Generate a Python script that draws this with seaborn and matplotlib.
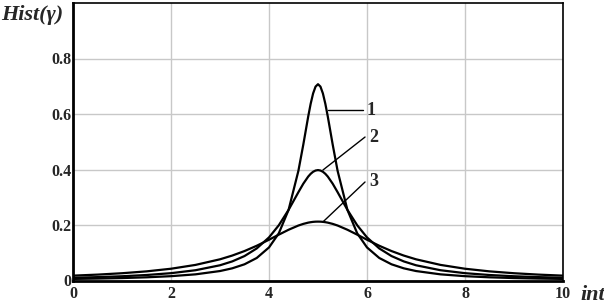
import matplotlib
matplotlib.use("Agg")
import matplotlib.pyplot as plt
import seaborn as sns
import pandas as pd

# Data
x_vals = [0, 0.5, 1, 1.5, 2, 2.5, 3, 3.25, 3.5, 3.75, 4, 4.2, 4.4, 4.6, 4.7, 4.8, 4.85, 4.9, 4.95, 5,
          5.05, 5.1, 5.15, 5.2, 5.3, 5.4, 5.6, 5.8, 6, 6.25, 6.5, 6.75, 7, 7.5, 8, 8.5, 9, 9.5, 10]
half1 = [0.0057, 0.0070, 0.0088, 0.0115, 0.0156, 0.0222, 0.0341, 0.0439, 0.0584, 0.0812,
         0.1191, 0.1700, 0.2547, 0.3952, 0.4897, 0.5907, 0.6366, 0.6741, 0.6987]
peak1 = 0.7074
half2 = [0.0099, 0.0122, 0.0153, 0.0198, 0.0264, 0.0370, 0.0549, 0.0688, 0.0881, 0.1156,
         0.1553, 0.1990, 0.2547, 0.3183, 0.3488, 0.3745, 0.3844, 0.3918, 0.3963]
peak2 = 0.3979
half3 = [0.0175, 0.0212, 0.0262, 0.0329, 0.0424, 0.0562, 0.0764, 0.0899, 0.1061, 0.1252,
         0.1469, 0.1652, 0.1829, 0.1981, 0.2040, 0.2085, 0.2101, 0.2113, 0.2120]
peak3 = 0.2122

curve1 = half1 + [peak1] + half1[::-1]
curve2 = half2 + [peak2] + half2[::-1]
curve3 = half3 + [peak3] + half3[::-1]
curve_names = ["1", "2", "3"]

x_ticks = [0, 2, 4, 6, 8, 10]
y_ticks = [0, 0.2, 0.4, 0.6, 0.8]
y_tick_labels = ["0", "0.2", "0.4", "0.6", "0.8"]

# label leader lines: (curve point) -> (label point)
label_start = [(5.20, 0.614), (5.10, 0.398), (5.10, 0.211)]
label_end = [(5.92, 0.614), (5.96, 0.517), (5.96, 0.355)]

rows = []
for name, ys in zip(curve_names, [curve1, curve2, curve3]):
    for xv, yv in zip(x_vals, ys):
        rows.append({"int": xv, "hist": yv, "curve": name})
df = pd.DataFrame(rows)

sns.set_style("white")
plt.rcParams["font.family"] = ["Liberation Serif", "DejaVu Serif"]

fig = plt.figure(figsize=(6.04, 3.04), dpi=100)
ax = fig.add_axes([73 / 604, 23.5 / 304, 490 / 604, 277.5 / 304])

sns.lineplot(data=df, x="int", y="hist", units="curve", estimator=None,
             color="black", linewidth=1.6, ax=ax, legend=False)

ax.set_xlim(0, 10)
ax.set_ylim(0, 1)
ax.set_xticks(x_ticks)
ax.set_yticks(y_ticks)
ax.set_xticklabels([str(t) for t in x_ticks], fontweight="bold", fontsize=11.5)
ax.set_yticklabels(y_tick_labels, fontweight="bold", fontsize=11.5)
ax.tick_params(axis="y", length=0, pad=1)
ax.tick_params(axis="x", length=0, pad=4)
ax.grid(True, color="#c8c8c8", linewidth=1)
ax.set_axisbelow(True)
for s in ax.spines.values():
    s.set_color("black")
    s.set_linewidth(1.2)
ax.spines["left"].set_linewidth(2)
ax.spines["bottom"].set_linewidth(2)
ax.set_xlabel("")
ax.set_ylabel("")

for name, (x0, y0), (x1, y1) in zip(curve_names, label_start, label_end):
    ax.plot([x0, x1], [y0, y1], color="black", linewidth=1)
    ax.text(x1 + 0.08, y1, name, fontsize=13, fontweight="bold",
            ha="left", va="center")

fig.text(1 / 604, 1 - 15 / 304, "Hist(γ)", fontsize=16, fontweight="bold",
         fontstyle="italic", ha="left", va="center")
fig.text(580 / 604, 1 - 295 / 304, "int", fontsize=16, fontweight="bold",
         fontstyle="italic", ha="left", va="center")

fig.savefig("out.png", dpi=100)
